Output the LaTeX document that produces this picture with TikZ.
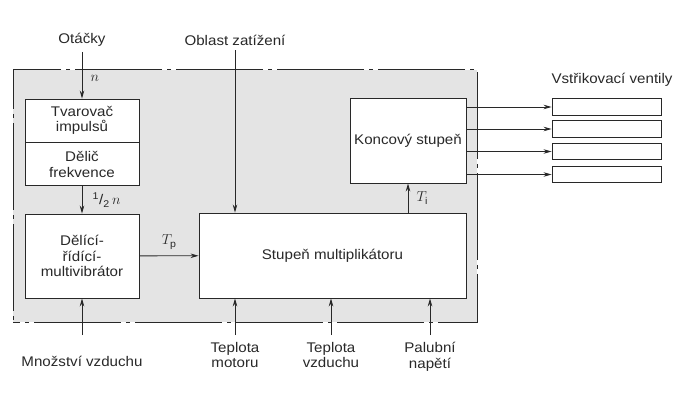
\documentclass[tikz,border=0pt]{standalone}
\usepackage{fontspec}
\setmainfont{Liberation Sans}[FakeStretch=1.08]
\definecolor{framegray}{RGB}{228,228,228}
\definecolor{inkgray}{RGB}{40,40,40}
\usetikzlibrary{arrows.meta,positioning}

\begin{document}
\begin{tikzpicture}[x=1pt, y=-1pt, node distance=0pt,
    font=\fontsize{14}{15.5}\selectfont, text=inkgray,
    block/.style={rectangle, draw=inkgray, line width=0.9pt, fill=white, align=center, inner sep=2pt},
    sigline/.style={-{Stealth[length=8pt,width=4.5pt]}, draw=inkgray, line width=0.8pt},
    sigtext/.style={align=center, inner sep=2pt}]
    \useasboundingbox (0,0) rectangle (676,403);

    % Control unit frame
    \node[rectangle, draw=inkgray, line width=1pt, fill=framegray,
          dash pattern=on 87pt off 5pt on 4pt off 5pt, dash phase=80pt,
          minimum width=464pt, minimum height=252pt] (ridici) at (245,196) {};

    % Pulse path
    \node[block, minimum width=114pt, minimum height=43pt] (tvarovac) at (82,120.5) {Tvarovač\\impulsů};
    \node[block, minimum width=114pt, minimum height=43pt, below=of tvarovac] (delic) {Dělič\\frekvence};
    \node[block, minimum width=114pt, minimum height=84pt] (multivibrator) at (82,256) {Dělící-\\řídící-\\multivibrátor};

    % Multiplier and output stage
    \node[block, minimum width=267pt, minimum height=85pt] (multiplikator) at (332.5,255.5) {Stupeň multiplikátoru};
    \node[block, minimum width=116pt, minimum height=85pt] (koncovy) at (408,140.5) {Koncový stupeň};

    % Injection valves
    \node[sigtext] (ventily) at (612,80) {Vstřikovací ventily};
    \foreach \i/\y in {1/107,2/129,3/151.5,4/174.5} {
        \node[block, minimum width=109pt, minimum height=16.5pt, inner sep=0pt] (ventil\i) at (606.5,\y) {};
        \draw[sigline] (koncovy.east |- ventil\i) -- (ventil\i.west);
    }

    % Inputs from above
    \node[sigtext] (otacky) at (82,40) {Otáčky};
    \node[sigtext] (oblast) at (235,40) {Oblast zatížení};
    \draw[sigline, shorten <=3pt] (otacky) -- (tvarovac) node[pos=0.6, right=5pt] {$n$};
    \draw[sigline, shorten <=3pt] (oblast.south) -- (oblast.south |- multiplikator.north);

    % Internal signals
    \draw[sigline] (delic) -- (multivibrator) node[midway, right=7pt] {\textsuperscript{1}/\textsubscript{2}\,$n$};
    \draw[sigline] (multivibrator) -- (multiplikator) node[midway, above=3pt] {$T_\mathrm{p}$};
    \draw[sigline] (koncovy.south |- multiplikator.north) -- (koncovy.south) node[midway, right=5pt] {$T_\mathrm{i}$};

    % Inputs from below
    \node[sigtext, anchor=north] (mnozstvi) at (82,354) {Množství vzduchu};
    \node[sigtext, anchor=north] (teplotam) at (235,340) {Teplota\\motoru};
    \node[sigtext, anchor=north] (teplotav) at (331,340) {Teplota\\vzduchu};
    \node[sigtext, anchor=north] (palubni) at (430,340) {Palubní\\napětí};
    \draw[sigline] ([yshift=19pt]mnozstvi.north) -- (multivibrator);
    \draw[sigline] ([yshift=5pt]teplotam.north) -- (teplotam.north |- multiplikator.south);
    \draw[sigline] ([yshift=5pt]teplotav.north) -- (teplotav.north |- multiplikator.south);
    \draw[sigline] ([yshift=5pt]palubni.north) -- (palubni.north |- multiplikator.south);
\end{tikzpicture}
\end{document}
